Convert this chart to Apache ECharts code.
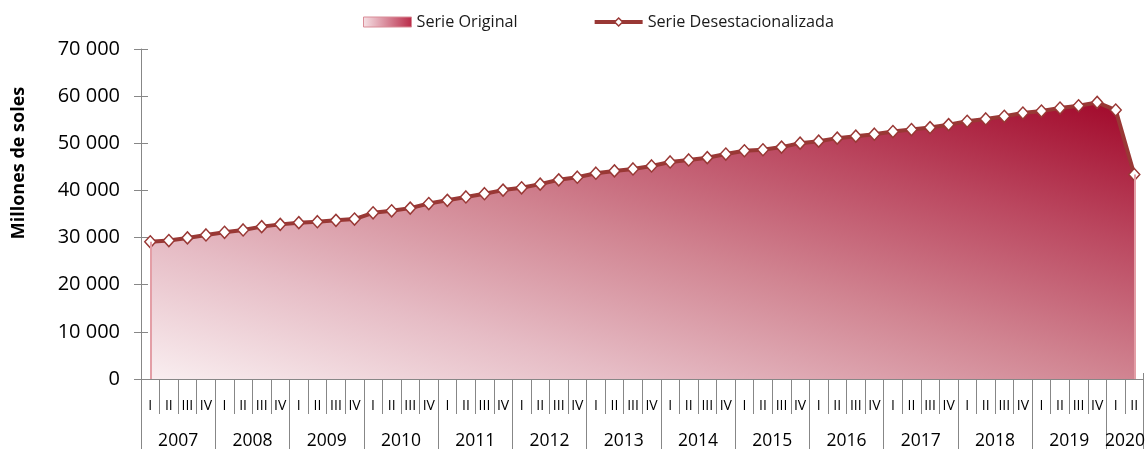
<!DOCTYPE html>
<html>
<head>
<meta charset="utf-8">
<script src="https://cdn.jsdelivr.net/npm/echarts@6/dist/echarts.min.js"></script>
<style>
  html, body { margin: 0; padding: 0; background: #ffffff; }
  #chart { width: 1148px; height: 450px; }
</style>
</head>
<body>
<div id="chart"></div>
<script>
// Quarterly series, 2007 Q1 – 2020 Q2 (millones de soles)
const years = ['2007', '2008', '2009', '2010', '2011', '2012', '2013',
               '2014', '2015', '2016', '2017', '2018', '2019', '2020'];
const quartersPerYear = [4, 4, 4, 4, 4, 4, 4, 4, 4, 4, 4, 4, 4, 2];
const quarterNames = ['I', 'II', 'III', 'IV'];

const serieOriginal = [
  29100, 29370, 29930, 30560, 31120, 31620, 32320, 32800, 33160, 33370,
  33650, 33930, 35260, 35680, 36250, 37220, 37900, 38620, 39300, 40070,
  40560, 41330, 42250, 42800, 43650, 44140, 44560, 45190, 46040, 46460,
  46950, 47720, 48420, 48630, 49190, 50030, 50450, 51090, 51510, 51930,
  52490, 52910, 53330, 53960, 54670, 55160, 55720, 56420, 56840, 57470,
  57960, 58670, 57050, 43370
];
const serieDesestacionalizada = [
  29100, 29370, 29930, 30560, 31120, 31620, 32320, 32800, 33160, 33370,
  33650, 33930, 35260, 35680, 36250, 37220, 37900, 38620, 39300, 40070,
  40560, 41330, 42250, 42800, 43650, 44140, 44560, 45190, 46040, 46460,
  46950, 47720, 48420, 48630, 49190, 50030, 50450, 51090, 51510, 51930,
  52490, 52910, 53330, 53960, 54670, 55160, 55720, 56420, 56840, 57470,
  57960, 58670, 57050, 43370
];

const yMin = 0, yMax = 70000, yStep = 10000;

// Category keys "2007-I" ... "2020-II"
const categories = [];
years.forEach((y, i) => {
  for (let q = 0; q < quartersPerYear[i]; q++) categories.push(y + '-' + quarterNames[q]);
});

// Year band axis: one slot per quarter boundary (n + 1 slots)
const yearSlots = new Array(categories.length + 1).fill('');
const yearBoundaries = new Set();
let pos = 0;
years.forEach((y, i) => {
  yearBoundaries.add(pos);
  yearSlots[pos + quartersPerYear[i] / 2] = y;
  pos += quartersPerYear[i];
});
yearBoundaries.add(pos);

const FONT = '"Open Sans", "Liberation Sans", sans-serif';
const AXIS_GREY = '#878787';
const LINE_RED = '#993835';

const fmtThousands = v => String(v).replace(/\B(?=(\d{3})+(?!\d))/g, ' ');

// Diagonal fill: iso-colour lines run along the area's bounding-box diagonal.
// Direction vector (in bbox units) chosen so that bottom-left = 0 and top-right = 1.
const BOX_W = 988, BOX_H = 279;
const d2 = BOX_W * BOX_W + BOX_H * BOX_H;
const gx2 = 2 * BOX_H * BOX_H / d2;
const gy2 = 1 - 2 * BOX_W * BOX_W / d2;
const areaFill = new echarts.graphic.LinearGradient(0, 1, gx2, gy2, [
  { offset: 0, color: '#f9eef0' },
  { offset: 0.25, color: '#e6bcc5' },
  { offset: 0.5, color: '#d18592' },
  { offset: 0.75, color: '#bb4860' },
  { offset: 1, color: '#a1082a' }
]);
const legendAreaFill = new echarts.graphic.LinearGradient(0, 0, 1, 0, [
  { offset: 0, color: '#f6e2e6' },
  { offset: 1, color: '#b92a48' }
]);

const chart = echarts.init(document.getElementById('chart'), null, { renderer: 'canvas' });

chart.setOption({
  animation: false,
  backgroundColor: '#ffffff',
  textStyle: { fontFamily: FONT },
  legend: {
    top: 9,
    left: 358,
    itemGap: 75,
    itemWidth: 48,
    itemHeight: 10,
    textStyle: { fontFamily: FONT, fontSize: 16.2, color: '#1a1a1a' },
    data: [
      { name: 'Serie Original', icon: 'rect',
        itemStyle: { color: legendAreaFill, borderColor: '#d98c97', borderWidth: 1, opacity: 1 } },
      { name: 'Serie Desestacionalizada',
        lineStyle: { color: LINE_RED, width: 4 },
        itemStyle: { color: '#ffffff', borderColor: LINE_RED, borderWidth: 1.5 } }
    ]
  },
  grid: { left: 141, right: 1, top: 49, bottom: 68, containLabel: false },
  xAxis: [
    { // quarter labels and separators
      type: 'category',
      data: categories,
      position: 'bottom',
      boundaryGap: true,
      axisLine: { show: true, lineStyle: { color: AXIS_GREY, width: 1 } },
      axisTick: { show: true, interval: 0, length: 35, lineStyle: { color: AXIS_GREY, width: 1 } },
      axisLabel: {
        interval: 0, margin: 20, fontSize: 14, color: '#000',
        fontFamily: FONT,
        formatter: v => v.split('-')[1]
      },
      splitLine: { show: false }
    },
    { // tick marks above the axis
      type: 'category',
      data: categories,
      position: 'bottom',
      boundaryGap: true,
      axisLine: { show: false },
      axisTick: { show: true, inside: true, interval: 0, length: 6, lineStyle: { color: AXIS_GREY, width: 1 } },
      axisLabel: { show: false },
      splitLine: { show: false }
    },
    { // year labels and long separators
      type: 'category',
      data: yearSlots,
      position: 'bottom',
      boundaryGap: false,
      axisLine: { show: false },
      axisTick: {
        show: true, length: 70,
        interval: idx => yearBoundaries.has(idx),
        lineStyle: { color: AXIS_GREY, width: 1 }
      },
      axisLabel: {
        interval: 0, margin: 53, fontSize: 17.5, color: '#000',
        fontFamily: FONT, showMinLabel: true, showMaxLabel: true
      },
      splitLine: { show: false }
    }
  ],
  yAxis: [
    {
      type: 'value',
      min: yMin, max: yMax, interval: yStep,
      name: 'Millones de soles',
      nameLocation: 'middle',
      nameRotate: 90,
      nameGap: 113,
      nameTextStyle: {
        fontFamily: FONT, fontSize: 18, fontWeight: 'bold', color: '#000',
        padding: [0, 0, 0, 102]
      },
      axisLine: { show: true, lineStyle: { color: AXIS_GREY, width: 1 } },
      axisTick: { show: true, length: 7, lineStyle: { color: AXIS_GREY, width: 1 } },
      axisLabel: { margin: 21, fontSize: 20, color: '#000', fontFamily: FONT, formatter: fmtThousands },
      splitLine: { show: false }
    },
    {
      type: 'value',
      min: yMin, max: yMax, interval: yStep,
      position: 'left',
      axisLine: { show: false },
      axisTick: { show: true, inside: true, length: 7, lineStyle: { color: AXIS_GREY, width: 1 } },
      axisLabel: { show: false },
      splitLine: { show: false }
    }
  ],
  series: [
    {
      name: 'Serie Original',
      type: 'line',
      xAxisIndex: 0,
      yAxisIndex: 0,
      data: serieOriginal,
      symbol: 'none',
      lineStyle: { width: 0, opacity: 0 },
      itemStyle: { color: '#d98c97' },
      areaStyle: { color: areaFill, opacity: 1 },
      z: 1,
      markLine: {
        silent: true,
        symbol: 'none',
        label: { show: false },
        lineStyle: { color: '#e39ea6', width: 2, type: 'solid' },
        data: [
          [{ coord: [categories[0], 0] }, { coord: [categories[0], serieOriginal[0]] }],
          [{ coord: [categories[categories.length - 1], 0] },
           { coord: [categories[categories.length - 1], serieOriginal[serieOriginal.length - 1]] }]
        ]
      }
    },
    {
      name: 'Serie Desestacionalizada',
      type: 'line',
      xAxisIndex: 0,
      yAxisIndex: 0,
      data: serieDesestacionalizada,
      symbol: 'diamond',
      symbolSize: [11, 12],
      showAllSymbol: true,
      itemStyle: { color: '#ffffff', borderColor: LINE_RED, borderWidth: 1.5 },
      lineStyle: { color: LINE_RED, width: 4 },
      z: 3
    }
  ]
});
</script>
</body>
</html>
